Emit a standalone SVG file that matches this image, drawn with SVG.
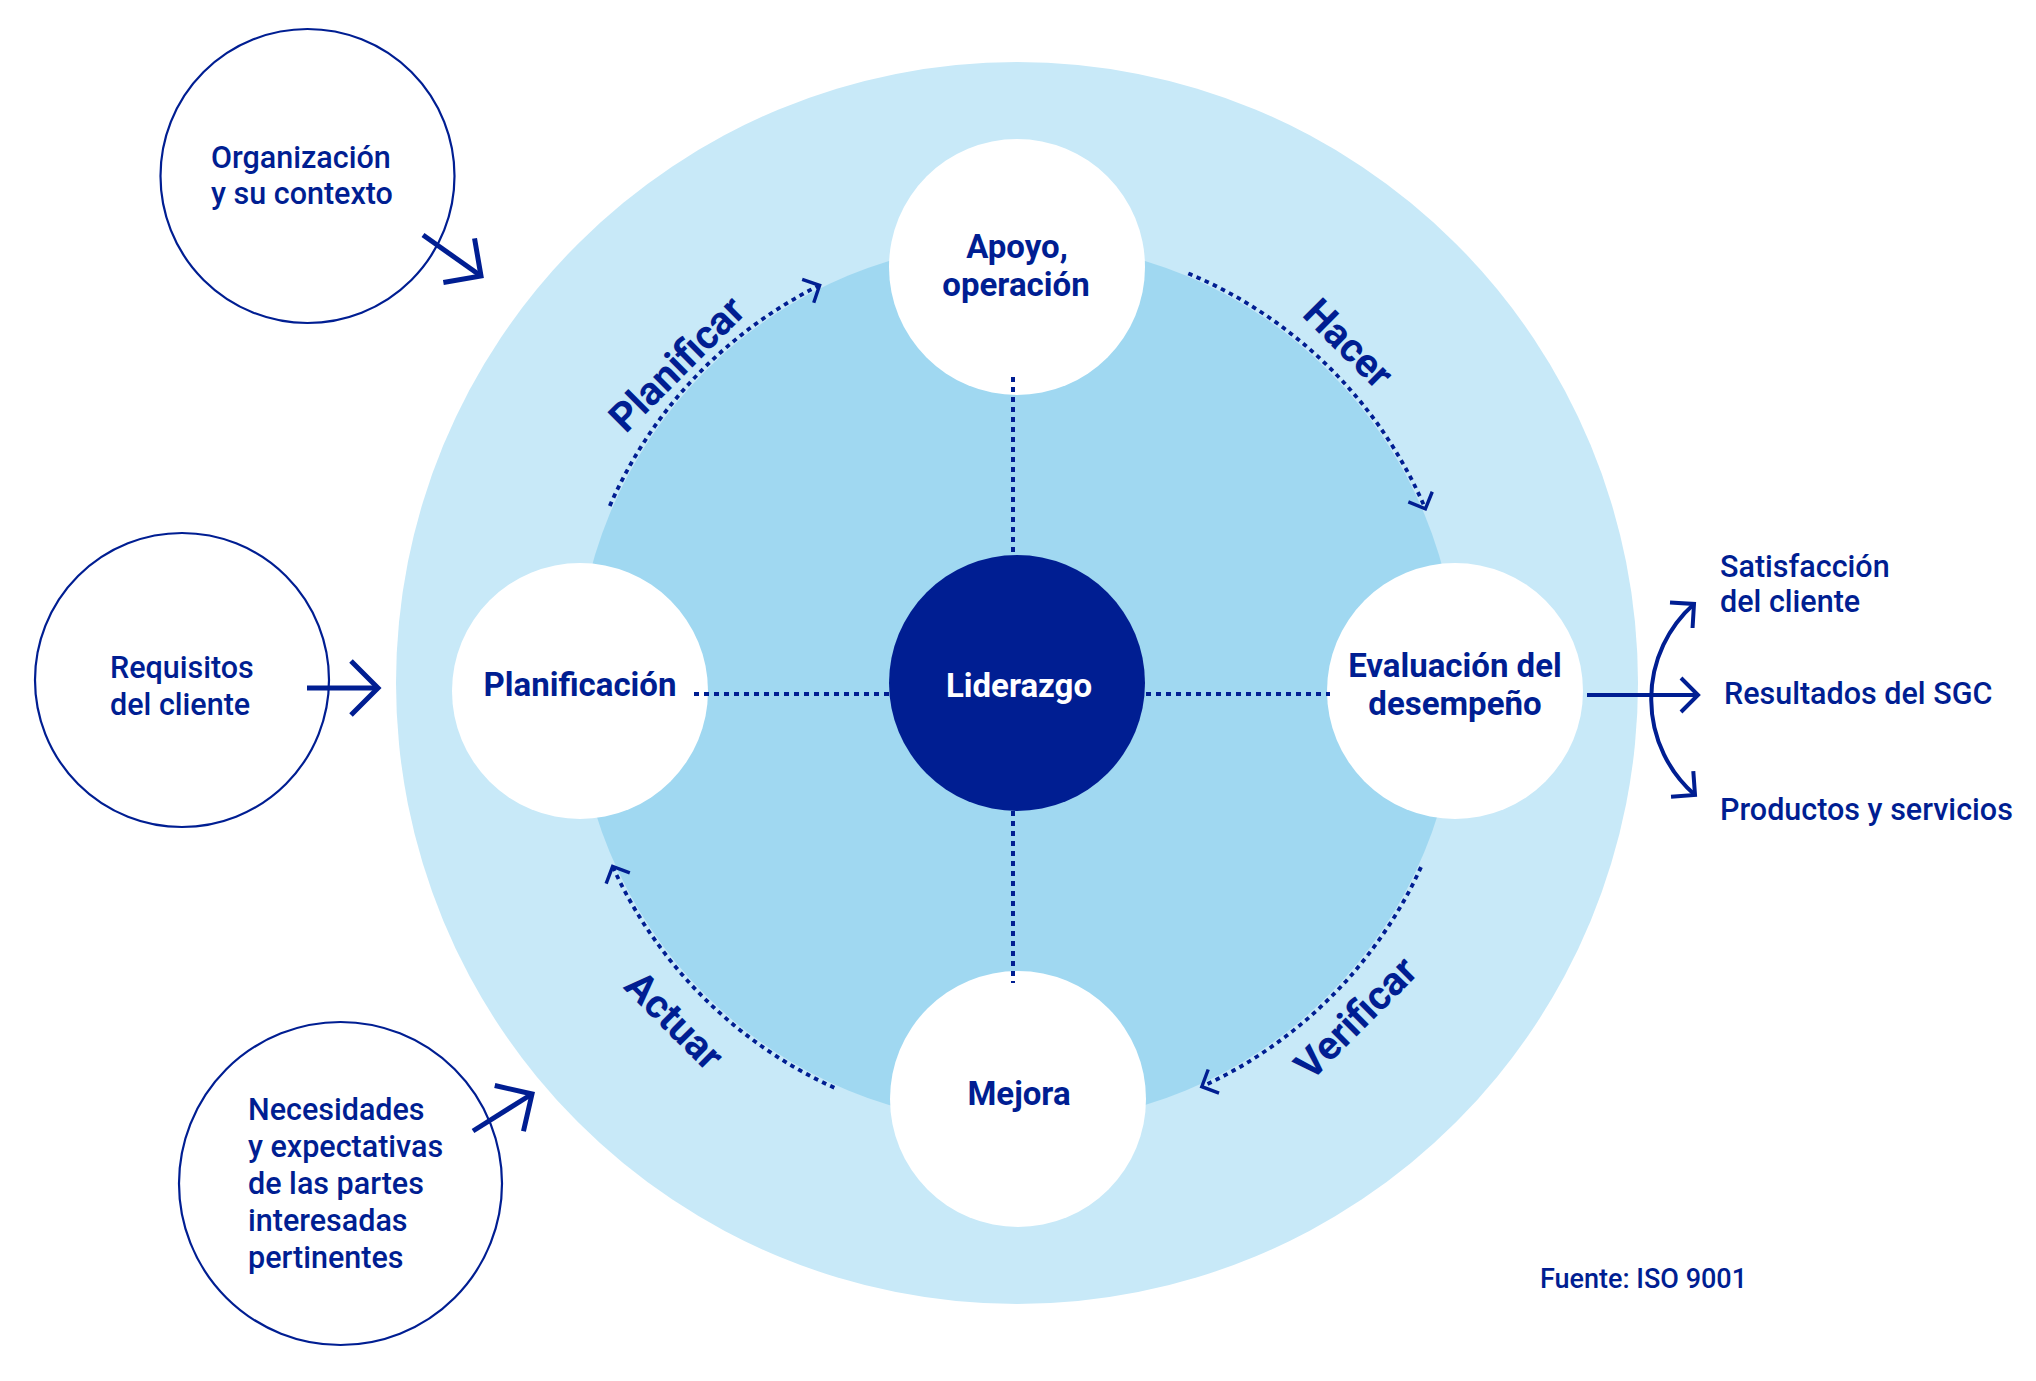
<svg xmlns="http://www.w3.org/2000/svg" width="2036" height="1381" viewBox="0 0 2036 1381">
  <style>
    .lbl { font-family: Roboto, "Liberation Sans", sans-serif; font-weight: 500; font-size: 30.5px; fill: #001e92; }
    .node { font-family: Roboto, "Liberation Sans", sans-serif; font-weight: 700; font-size: 33px; fill: #001e92; text-anchor: middle; }
    .phase { font-family: Roboto, "Liberation Sans", sans-serif; font-weight: 700; font-size: 40px; fill: #001e92; text-anchor: middle; }
    .ring { fill: none; stroke: #001e92; stroke-width: 2.2; }
    .wnode { fill: #ffffff; }
    .dot { fill: none; stroke: #001e92; stroke-width: 4; stroke-dasharray: 5 5; }
    .arcdot { fill: none; stroke: #001e92; stroke-width: 3.8; stroke-dasharray: 4.5 4.5; }
    .thick { fill: none; stroke: #001e92; stroke-width: 5; }
    .med { fill: none; stroke: #001e92; stroke-width: 4; }
  </style>
  <defs>
    <marker id="arcHead" markerUnits="userSpaceOnUse" viewBox="-20 -20 30 40" refX="0" refY="0" markerWidth="30" markerHeight="40" orient="auto">
      <path d="M-13,-13 L0,0 L-13,13" fill="none" stroke="#001e92" stroke-width="3.4"/>
    </marker>
    <marker id="bigHead" markerUnits="userSpaceOnUse" viewBox="-40 -35 50 70" refX="0" refY="0" markerWidth="50" markerHeight="70" orient="auto">
      <path d="M-27,-27 L0,0 L-27,27" fill="none" stroke="#001e92" stroke-width="5"/>
    </marker>
    <marker id="medHead" markerUnits="userSpaceOnUse" viewBox="-30 -25 40 50" refX="0" refY="0" markerWidth="40" markerHeight="50" orient="auto-start-reverse">
      <path d="M-17,-17 L0,0 L-17,17" fill="none" stroke="#001e92" stroke-width="4"/>
    </marker>
  </defs>

  <rect width="2036" height="1381" fill="#ffffff"/>

  <g id="background">
    <circle cx="1017" cy="683" r="621" fill="#c8e9f8"/>
    <circle cx="1017" cy="683" r="441" fill="#a0d8f1"/>
  </g>

  <g id="node-apoyo">
    <circle class="wnode" cx="1017" cy="267" r="128"/>
    <text class="node" x="1017" y="258">Apoyo,</text>
    <text class="node" x="1016" y="296">operación</text>
  </g>
  <g id="node-planificacion">
    <circle class="wnode" cx="580" cy="691" r="128"/>
    <text class="node" x="580" y="696">Planificación</text>
  </g>
  <g id="node-evaluacion">
    <circle class="wnode" cx="1455" cy="691" r="128"/>
    <text class="node" x="1455" y="677">Evaluación del</text>
    <text class="node" x="1455" y="715">desempeño</text>
  </g>
  <g id="node-mejora">
    <circle class="wnode" cx="1018" cy="1099" r="128"/>
    <text class="node" x="1019" y="1105">Mejora</text>
  </g>
  <g id="node-liderazgo">
    <circle cx="1017" cy="683" r="128" fill="#001e92"/>
    <text class="node" x="1019" y="697" style="fill:#ffffff">Liderazgo</text>
  </g>

  <g id="connectors">
    <line class="dot" x1="1013" y1="377" x2="1013" y2="554"/>
    <line class="dot" x1="1013" y1="811" x2="1013" y2="983"/>
    <line class="dot" x1="694" y1="694" x2="889" y2="694"/>
    <line class="dot" x1="1146" y1="694" x2="1330" y2="694"/>

    <path class="arcdot" d="M609.8,505.9 A444,444 0 0 1 819.6,285.3" marker-end="url(#arcHead)"/>
    <path class="arcdot" d="M1188.3,273.4 A444,444 0 0 1 1425.4,508.8" marker-end="url(#arcHead)"/>
    <path class="arcdot" d="M1421.0,867.1 A444,444 0 0 1 1201.8,1086.7" marker-end="url(#arcHead)"/>
    <path class="arcdot" d="M834.3,1087.7 A444,444 0 0 1 612.6,866.4" marker-end="url(#arcHead)"/>

    <line class="thick" x1="423" y1="235" x2="481" y2="276" marker-end="url(#bigHead)"/>
    <line class="thick" x1="307" y1="688" x2="378" y2="688" marker-end="url(#bigHead)"/>
    <line class="thick" x1="473" y1="1131" x2="532" y2="1094" marker-end="url(#bigHead)"/>

    <line class="med" x1="1587" y1="695" x2="1698" y2="695" marker-end="url(#medHead)"/>
    <path class="med" d="M1695,795 A127,127 0 0 1 1694,604" marker-start="url(#medHead)" marker-end="url(#medHead)"/>
  </g>

  <g id="phase-labels">
    <text class="phase" transform="translate(676,363) rotate(-45)" dy="0.37em">Planificar</text>
    <text class="phase" transform="translate(1349,343) rotate(45)" dy="0.36em">Hacer</text>
    <text class="phase" transform="translate(1355,1017) rotate(-45)" dy="0.37em">Verificar</text>
    <text class="phase" transform="translate(675,1020) rotate(45)" dy="0.36em">Actuar</text>
  </g>

  <g id="input-organizacion">
    <circle class="ring" cx="307.5" cy="176" r="147"/>
    <text class="lbl" x="211" y="168">Organización</text>
    <text class="lbl" x="211" y="204">y su contexto</text>
  </g>
  <g id="input-requisitos">
    <circle class="ring" cx="182" cy="680" r="147"/>
    <text class="lbl" x="110" y="678">Requisitos</text>
    <text class="lbl" x="110" y="715">del cliente</text>
  </g>
  <g id="input-necesidades">
    <circle class="ring" cx="340.5" cy="1183.5" r="161.5"/>
    <text class="lbl" x="248" y="1120">Necesidades</text>
    <text class="lbl" x="248" y="1157">y expectativas</text>
    <text class="lbl" x="248" y="1194">de las partes</text>
    <text class="lbl" x="248" y="1231">interesadas</text>
    <text class="lbl" x="248" y="1268">pertinentes</text>
  </g>

  <g id="outputs">
    <text class="lbl" x="1720" y="577">Satisfacción</text>
    <text class="lbl" x="1720" y="612">del cliente</text>
    <text class="lbl" x="1724" y="704">Resultados del SGC</text>
    <text class="lbl" x="1720" y="820">Productos y servicios</text>
  </g>

  <text class="lbl" x="1540" y="1288" style="font-size:27px">Fuente: ISO 9001</text>
</svg>
